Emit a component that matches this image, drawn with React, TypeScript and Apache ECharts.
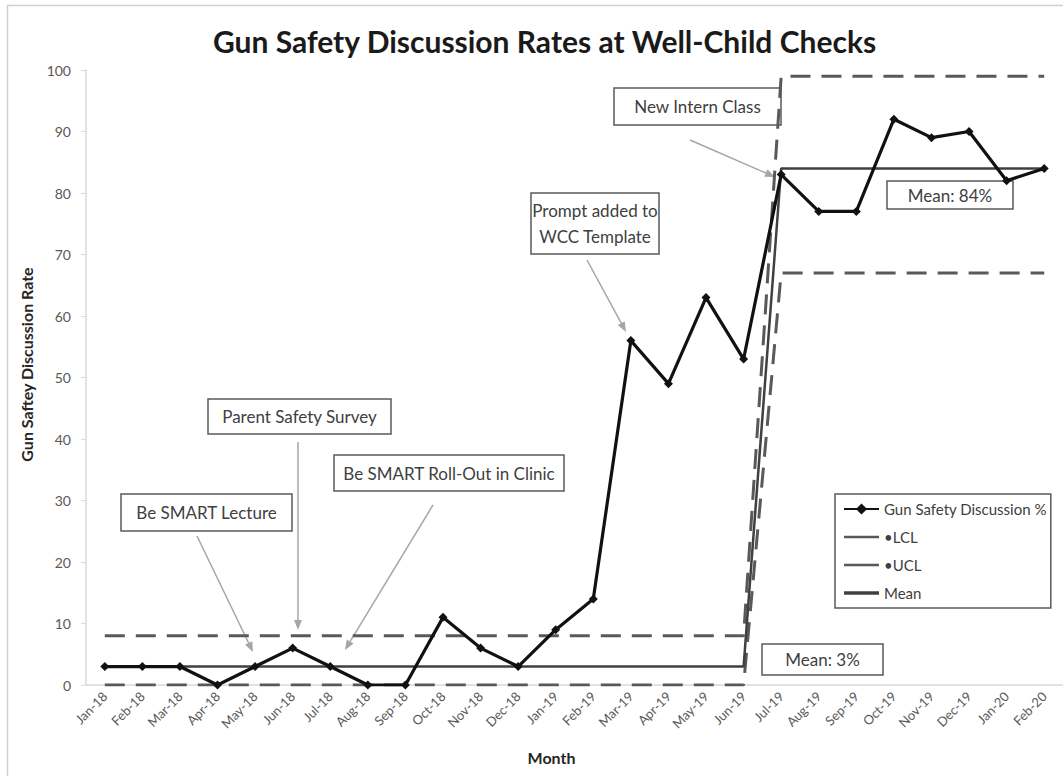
import React, { useEffect, useRef } from "react";
import * as echarts from "echarts";

const months = [
  "Jan-18", "Feb-18", "Mar-18", "Apr-18", "May-18", "Jun-18", "Jul-18", "Aug-18", "Sep-18",
  "Oct-18", "Nov-18", "Dec-18", "Jan-19", "Feb-19", "Mar-19", "Apr-19", "May-19", "Jun-19",
  "Jul-19", "Aug-19", "Sep-19", "Oct-19", "Nov-19", "Dec-19", "Jan-20", "Feb-20",
];
const discussion = [3, 3, 3, 0, 3, 6, 3, 0, 0, 11, 6, 3, 9, 14, 56, 49, 63, 53, 83, 77, 77, 92, 89, 90, 82, 84];
const lcl = [0, 0, 0, 0, 0, 0, 0, 0, 0, 0, 0, 0, 0, 0, 0, 0, 0, 0, 67, 67, 67, 67, 67, 67, 67, 67];
const ucl = [8, 8, 8, 8, 8, 8, 8, 8, 8, 8, 8, 8, 8, 8, 8, 8, 8, 8, 99, 99, 99, 99, 99, 99, 99, 99];
const mean = [3, 3, 3, 3, 3, 3, 3, 3, 3, 3, 3, 3, 3, 3, 3, 3, 3, 3, 84, 84, 84, 84, 84, 84, 84, 84];

const seriesNames = ["Gun Safety Discussion %", "\u2022LCL", "\u2022UCL", "Mean"];
const titleText = "Gun Safety Discussion Rates at Well-Child Checks";
const yName = "Gun Saftey Discussion Rate";
const xName = "Month";

const FONT = "Lato, 'Open Sans', sans-serif";

function box(x: number, y: number, w: number, h: number, lines: string[], lineH = 26) {
  const els: any[] = [
    {
      type: "rect",
      shape: { x, y, width: w, height: h },
      style: { fill: "#fff", stroke: "#595959", lineWidth: 1.5 },
      z: 1,
    },
  ];
  const cy = y + h / 2;
  lines.forEach((t, i) => {
    els.push({
      type: "text",
      x: x + w / 2,
      y: cy + (i - (lines.length - 1) / 2) * lineH,
      style: {
        text: t,
        fill: "#404040",
        font: `17px ${FONT}`,
        textAlign: "center",
        textVerticalAlign: "middle",
      },
      z: 1,
    });
  });
  return els;
}

function arrow(x1: number, y1: number, x2: number, y2: number) {
  const dx = x2 - x1;
  const dy = y2 - y1;
  const len = Math.sqrt(dx * dx + dy * dy);
  const ux = dx / len;
  const uy = dy / len;
  const hl = 10;
  const hw = 4;
  const bx = x2 - ux * hl;
  const by = y2 - uy * hl;
  return [
    {
      type: "line",
      shape: { x1, y1, x2: bx, y2: by },
      style: { stroke: "#a6a6a6", lineWidth: 1.5 },
      z: 1,
    },
    {
      type: "polygon",
      shape: {
        points: [
          [x2, y2],
          [bx - uy * hw, by + ux * hw],
          [bx + uy * hw, by - ux * hw],
        ],
      },
      style: { fill: "#a6a6a6" },
      z: 1,
    },
  ];
}

export default function App() {
  const ref = useRef<HTMLDivElement>(null);
  useEffect(() => {
    if (!ref.current) return;
    const chart = echarts.init(ref.current, null, { renderer: "svg" });
    const dashStyle = { color: "#595959", width: 3, type: [20, 11] as any };
    chart.setOption({
      animation: false,
      backgroundColor: "#fff",
      textStyle: { fontFamily: FONT },
      title: {
        text: titleText,
        left: 208,
        top: 21,
        textStyle: { fontFamily: FONT, fontSize: 30, fontWeight: "bold", color: "#1a1a1a" },
      },
      legend: {
        orient: "vertical",
        left: 835,
        top: 494,
        padding: [6, 4, 6, 8],
        itemWidth: 35,
        itemHeight: 14,
        itemGap: 10,
        borderColor: "#595959",
        borderWidth: 1.5,
        backgroundColor: "#fff",
        textStyle: { fontFamily: FONT, fontSize: 15, color: "#404040", lineHeight: 18 },
        data: [
          { name: seriesNames[0] },
          { name: seriesNames[1], icon: "path://M0 0H35V2.5H0Z" },
          { name: seriesNames[2], icon: "path://M0 0H35V2.5H0Z" },
          { name: seriesNames[3], icon: "path://M0 0H35V3.5H0Z" },
        ],
      },
      grid: { left: 86, top: 70, width: 984, height: 615, containLabel: false },
      xAxis: {
        type: "category",
        data: months,
        boundaryGap: true,
        name: xName,
        nameLocation: "middle",
        nameGap: 64,
        nameTextStyle: { fontFamily: FONT, fontSize: 16, fontWeight: "bold", color: "#262626", padding: [0, 46, 0, 0] },
        axisLine: { lineStyle: { color: "#d9d9d9", width: 1.5 } },
        axisTick: { show: false },
        axisLabel: { rotate: 45, interval: 0, fontSize: 13, color: "#595959", margin: 9, fontFamily: FONT },
      },
      yAxis: {
        type: "value",
        min: 0,
        max: 100,
        interval: 10,
        name: yName,
        nameLocation: "middle",
        nameRotate: 90,
        nameGap: 52,
        nameTextStyle: { fontFamily: FONT, fontSize: 16, fontWeight: "bold", color: "#262626", padding: [0, 0, 0, 26] },
        axisLine: { show: true, lineStyle: { color: "#d9d9d9", width: 1.5 } },
        axisTick: { show: true, length: 5, lineStyle: { color: "#d9d9d9" } },
        axisLabel: { fontSize: 14, color: "#595959", margin: 15, fontFamily: FONT },
        splitLine: { show: false },
      },
      series: [
        {
          name: seriesNames[1],
          type: "line",
          data: lcl,
          symbol: "none",
          lineStyle: dashStyle,
          itemStyle: { color: "#595959" },
          z: 2,
        },
        {
          name: seriesNames[2],
          type: "line",
          data: ucl,
          symbol: "none",
          lineStyle: dashStyle,
          itemStyle: { color: "#595959" },
          z: 2,
        },
        {
          name: seriesNames[3],
          type: "line",
          data: mean,
          symbol: "none",
          lineStyle: { color: "#404040", width: 2.5 },
          itemStyle: { color: "#404040" },
          z: 3,
        },
        {
          name: seriesNames[0],
          type: "line",
          data: discussion,
          symbol: "diamond",
          symbolSize: 9,
          lineStyle: { color: "#111", width: 3.2 },
          itemStyle: { color: "#111" },
          z: 4,
        },
      ],
      graphic: {
        elements: [
          {
            type: "rect",
            shape: { x: 7.5, y: 5.5, width: 1100, height: 1000 },
            style: { fill: "none", stroke: "#d0d0d0", lineWidth: 1.5 },
            z: 0,
            silent: true,
          },
          ...box(121, 494, 171, 37, ["Be SMART Lecture"]),
          ...arrow(197, 536, 253, 652),
          ...box(208, 399, 183, 35, ["Parent Safety Survey"]),
          ...arrow(298, 442, 298, 630),
          ...box(334, 455, 230, 36, ["Be SMART Roll-Out in Clinic"]),
          ...arrow(433, 505, 345, 650),
          ...box(531, 193, 128, 61, ["Prompt added to", "WCC Template"]),
          ...arrow(587, 260, 626, 332),
          ...box(614, 88, 167, 37, ["New Intern Class"]),
          ...arrow(690, 140, 775, 177),
          ...box(887, 181, 126, 28, ["Mean: 84%"]),
          ...box(762, 644, 121, 31, ["Mean: 3%"]),
        ],
      },
    });
    return () => chart.dispose();
  }, []);
  return (
    <div
      ref={ref}
      style={{ position: "fixed", left: 0, top: 0, width: 1063, height: 776, background: "#fff" }}
    />
  );
}
